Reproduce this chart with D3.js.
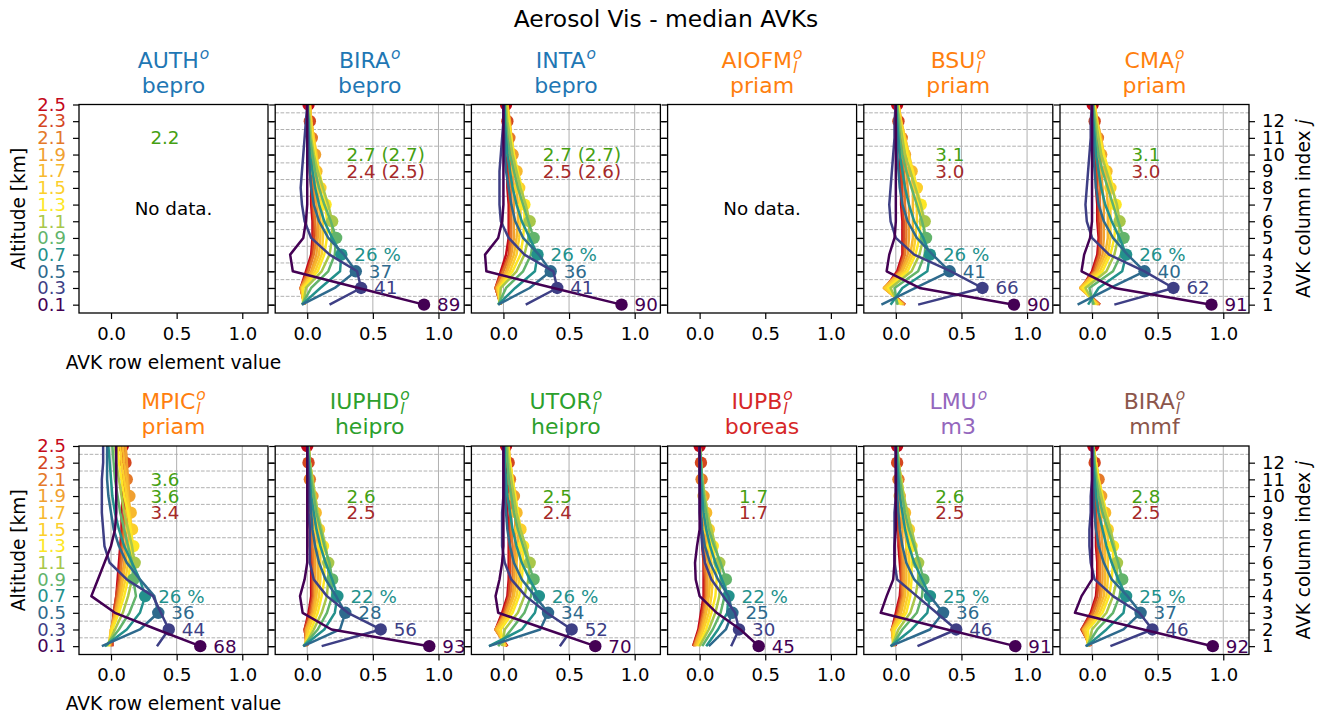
<!DOCTYPE html>
<html><head><meta charset="utf-8">
<script src="https://cdn.jsdelivr.net/npm/d3@7"></script>
<style>body{margin:0;background:#fff}text{font-family:"DejaVu Sans",sans-serif}</style>
</head><body><svg id="c" width="1328" height="715"></svg>
<script>
const altitudes = [0.1,0.3,0.5,0.7,0.9,1.1,1.3,1.5,1.7,1.9,2.1,2.3,2.5];
const boundaries = [0.2,0.4,0.6,0.8,1.0,1.2,1.4,1.6,1.8,2.0,2.2,2.4];
const altTickLabels = ["0.1","0.3","0.5","0.7","0.9","1.1","1.3","1.5","1.7","1.9","2.1","2.3","2.5"];
const colIndexLabels = ["1","2","3","4","5","6","7","8","9","10","11","12"];
const xTicks = [0.0,0.5,1.0];
const layerColors = ["#440154","#3e3f85","#2e6a8d","#23918c","#62b46b","#a9c74a","#fde725","#fccf2c","#f7b92e","#f0a030","#e4792a","#d4461f","#c4081b"];

const panelNames   = ["AUTH","BIRA","INTA","AIOFM","BSU","CMA","MPIC","IUPHD","UTOR","IUPB","LMU","BIRA"];
const panelSub     = ["","","","l","l","l","l","l","l","l","","l"];
const panelMethods = ["bepro","bepro","bepro","priam","priam","priam","priam","heipro","heipro","boreas","m3","mmf"];
const methodColors = {bepro:"#1f77b4",priam:"#ff7f0e",heipro:"#2ca02c",boreas:"#d62728",m3:"#9467bd",mmf:"#8c564b"};
const noData       = [true,false,false,true,false,false,false,false,false,false,false,false];
const diagLabels = [[],["89","41","37","26 %"],["90","41","36","26 %"],[],["90","66","41","26 %"],["91","62","40","26 %"],
  ["68","44","36","26 %"],["93","56","28","22 %"],["70","52","34","26 %"],["45","30","25","22 %"],["91","46","36","25 %"],["92","46","37","25 %"]];
const dofsLine1 = ["2.2","","","","","","3.6","","","","",""];
const dofsLine2 = ["","2.7 (2.7)","2.7 (2.7)","","3.1","3.1","3.6","2.6","2.5","1.7","2.6","2.8"];
const dofsLine3 = ["","2.4 (2.5)","2.5 (2.6)","","3.0","3.0","3.4","2.5","2.4","1.7","2.5","2.5"];

const avk_BIRA_bepro = [
 [0.89,0.39,-0.11,-0.13,-0.03,-0.01,0.00,0.00,0.00,0.00,0.00,0.00,0.00],
 [0.17,0.41,0.38,0.17,0.03,-0.02,-0.04,-0.05,-0.04,-0.03,-0.02,-0.01,0.00],
 [-0.04,0.21,0.37,0.28,0.16,0.09,0.05,0.03,0.02,0.01,0.01,0.00,0.00],
 [-0.04,0.10,0.25,0.26,0.19,0.13,0.09,0.06,0.04,0.02,0.01,0.01,0.00],
 [-0.04,0.03,0.16,0.21,0.22,0.18,0.13,0.09,0.06,0.04,0.02,0.01,0.00],
 [-0.03,-0.01,0.11,0.17,0.19,0.19,0.16,0.12,0.08,0.05,0.03,0.02,0.01],
 [-0.03,-0.03,0.08,0.13,0.15,0.15,0.14,0.12,0.09,0.06,0.04,0.02,0.01],
 [-0.03,-0.04,0.06,0.11,0.12,0.12,0.11,0.10,0.09,0.07,0.05,0.03,0.02],
 [-0.02,-0.04,0.04,0.09,0.10,0.10,0.09,0.08,0.07,0.07,0.05,0.03,0.02],
 [-0.02,-0.05,0.03,0.07,0.08,0.08,0.07,0.06,0.06,0.06,0.05,0.03,0.02],
 [-0.02,-0.05,0.01,0.05,0.07,0.06,0.05,0.05,0.04,0.04,0.035,0.03,0.02],
 [-0.02,-0.05,0.00,0.04,0.05,0.05,0.04,0.04,0.03,0.03,0.02,0.02,0.02],
 [-0.02,-0.05,-0.01,0.03,0.04,0.04,0.03,0.03,0.02,0.02,0.02,0.01,0.01]];
const avk_INTA_bepro = [
 [0.90,0.38,-0.13,-0.14,-0.04,-0.01,0.00,0.00,0.00,0.00,0.00,0.00,0.00],
 [0.17,0.41,0.38,0.16,0.04,-0.02,-0.03,-0.03,-0.03,-0.02,-0.01,0.00,0.00],
 [-0.04,0.20,0.36,0.27,0.15,0.09,0.06,0.04,0.02,0.01,0.01,0.00,0.00],
 [-0.04,0.09,0.24,0.26,0.20,0.14,0.10,0.07,0.05,0.03,0.02,0.01,0.01],
 [-0.04,0.02,0.15,0.21,0.23,0.19,0.15,0.11,0.08,0.05,0.03,0.02,0.01],
 [-0.03,-0.02,0.10,0.16,0.19,0.20,0.17,0.13,0.10,0.07,0.05,0.03,0.02],
 [-0.03,-0.03,0.07,0.13,0.15,0.16,0.16,0.14,0.11,0.08,0.06,0.04,0.02],
 [-0.03,-0.04,0.05,0.10,0.12,0.13,0.13,0.12,0.10,0.08,0.06,0.04,0.03],
 [-0.02,-0.05,0.03,0.08,0.10,0.11,0.11,0.10,0.10,0.08,0.06,0.05,0.03],
 [-0.02,-0.05,0.02,0.06,0.08,0.08,0.08,0.08,0.07,0.07,0.05,0.04,0.03],
 [-0.02,-0.06,0.00,0.05,0.06,0.06,0.06,0.06,0.05,0.05,0.045,0.04,0.03],
 [-0.02,-0.06,-0.01,0.04,0.05,0.05,0.05,0.04,0.04,0.04,0.03,0.03,0.02],
 [-0.02,-0.06,-0.02,0.02,0.04,0.04,0.04,0.03,0.03,0.03,0.02,0.02,0.02]];
const avk_BSU_priam = [
 [0.90,0.18,-0.07,-0.05,-0.01,0.00,0.00,0.00,0.00,0.00,0.00,0.00,0.00],
 [0.17,0.66,0.42,0.14,0.00,-0.04,-0.05,-0.04,-0.03,-0.02,-0.01,-0.01,0.00],
 [-0.11,0.15,0.41,0.28,0.16,0.09,0.05,0.03,0.02,0.01,0.01,0.00,0.00],
 [-0.04,0.05,0.24,0.26,0.21,0.14,0.10,0.07,0.05,0.03,0.02,0.01,0.00],
 [0.01,-0.01,0.17,0.22,0.23,0.20,0.16,0.12,0.08,0.05,0.03,0.02,0.01],
 [0.02,-0.04,0.12,0.18,0.21,0.22,0.19,0.15,0.11,0.07,0.05,0.03,0.01],
 [0.04,-0.06,0.09,0.15,0.18,0.19,0.19,0.16,0.13,0.09,0.06,0.03,0.02],
 [0.05,-0.08,0.07,0.13,0.15,0.16,0.16,0.16,0.13,0.10,0.07,0.04,0.02],
 [0.06,-0.09,0.05,0.11,0.13,0.13,0.13,0.13,0.12,0.10,0.07,0.04,0.02],
 [0.06,-0.09,0.04,0.09,0.10,0.10,0.10,0.09,0.08,0.07,0.06,0.04,0.02],
 [0.07,-0.09,0.03,0.07,0.08,0.08,0.07,0.07,0.06,0.05,0.045,0.03,0.02],
 [0.07,-0.08,0.02,0.06,0.06,0.06,0.05,0.05,0.04,0.04,0.03,0.02,0.01],
 [0.07,-0.08,0.01,0.05,0.05,0.05,0.04,0.04,0.03,0.03,0.02,0.01,0.01]];
const avk_CMA_priam = [
 [0.91,0.17,-0.08,-0.06,-0.015,0.00,0.00,0.00,0.00,0.00,0.00,0.00,0.00],
 [0.17,0.62,0.40,0.13,0.00,-0.04,-0.05,-0.04,-0.03,-0.02,-0.01,-0.01,0.00],
 [-0.11,0.14,0.40,0.27,0.16,0.09,0.05,0.03,0.02,0.01,0.01,0.00,0.00],
 [-0.03,0.05,0.23,0.26,0.21,0.15,0.10,0.07,0.05,0.03,0.02,0.01,0.00],
 [0.01,-0.02,0.16,0.22,0.24,0.20,0.16,0.12,0.08,0.05,0.03,0.02,0.01],
 [0.02,-0.05,0.11,0.17,0.20,0.21,0.19,0.15,0.11,0.07,0.05,0.03,0.01],
 [0.03,-0.07,0.08,0.14,0.17,0.18,0.18,0.16,0.13,0.09,0.06,0.03,0.02],
 [0.04,-0.08,0.06,0.12,0.14,0.14,0.14,0.14,0.12,0.09,0.06,0.04,0.02],
 [0.05,-0.09,0.04,0.10,0.12,0.12,0.12,0.11,0.11,0.09,0.07,0.04,0.02],
 [0.05,-0.09,0.03,0.08,0.09,0.09,0.09,0.08,0.07,0.07,0.05,0.03,0.02],
 [0.06,-0.09,0.02,0.06,0.07,0.07,0.06,0.06,0.05,0.05,0.045,0.03,0.01],
 [0.06,-0.08,0.01,0.05,0.06,0.05,0.05,0.04,0.04,0.03,0.03,0.02,0.01],
 [0.06,-0.08,0.00,0.04,0.05,0.04,0.04,0.03,0.03,0.02,0.02,0.01,0.005]];
const avk_MPIC_priam = [
 [0.68,0.35,0.03,-0.15,-0.10,-0.05,0.00,0.03,0.04,0.04,0.04,0.04,0.04],
 [0.35,0.44,0.38,0.32,0.12,-0.01,-0.05,-0.06,-0.07,-0.07,-0.07,-0.06,-0.06],
 [-0.07,0.22,0.36,0.33,0.22,0.12,0.06,0.02,0.00,-0.02,-0.03,-0.03,-0.03],
 [-0.05,0.12,0.22,0.26,0.22,0.16,0.10,0.06,0.03,0.01,0.00,-0.01,-0.02],
 [-0.04,0.06,0.14,0.19,0.17,0.16,0.13,0.10,0.07,0.05,0.03,0.02,0.01],
 [-0.03,0.03,0.09,0.13,0.16,0.18,0.16,0.13,0.10,0.08,0.06,0.04,0.03],
 [-0.02,0.01,0.06,0.10,0.13,0.15,0.17,0.15,0.13,0.10,0.08,0.06,0.05],
 [-0.02,0.00,0.05,0.08,0.11,0.13,0.15,0.16,0.14,0.12,0.10,0.08,0.07],
 [-0.01,0.00,0.04,0.07,0.09,0.11,0.13,0.14,0.15,0.13,0.12,0.10,0.09],
 [-0.01,0.00,0.03,0.06,0.08,0.10,0.11,0.12,0.13,0.14,0.13,0.12,0.11],
 [0.00,0.00,0.03,0.05,0.07,0.08,0.09,0.10,0.11,0.12,0.12,0.12,0.11],
 [0.01,0.01,0.02,0.04,0.06,0.07,0.08,0.09,0.10,0.10,0.11,0.11,0.11],
 [0.01,0.01,0.02,0.04,0.05,0.06,0.07,0.08,0.08,0.09,0.09,0.09,0.09]];
const avk_IUPHD_heipro = [
 [0.93,0.185,-0.035,-0.055,-0.02,0.00,0.00,0.00,0.00,0.00,0.00,0.00,0.00],
 [0.11,0.56,0.31,0.15,0.05,0.02,0.02,0.02,0.01,0.01,0.01,0.00,0.00],
 [-0.03,0.25,0.29,0.22,0.14,0.09,0.06,0.04,0.03,0.02,0.01,0.01,0.00],
 [-0.03,0.13,0.21,0.23,0.19,0.14,0.10,0.07,0.05,0.03,0.02,0.01,0.00],
 [-0.03,0.08,0.15,0.19,0.19,0.17,0.13,0.10,0.07,0.05,0.03,0.02,0.01],
 [-0.02,0.05,0.11,0.15,0.16,0.16,0.14,0.11,0.08,0.06,0.04,0.02,0.01],
 [-0.02,0.03,0.08,0.11,0.13,0.13,0.12,0.10,0.08,0.06,0.04,0.02,0.01],
 [-0.02,0.01,0.06,0.09,0.10,0.10,0.10,0.09,0.07,0.05,0.04,0.02,0.01],
 [-0.01,0.00,0.05,0.07,0.08,0.08,0.08,0.07,0.065,0.05,0.03,0.02,0.01],
 [-0.01,-0.01,0.04,0.06,0.06,0.06,0.06,0.05,0.05,0.04,0.03,0.02,0.01],
 [-0.01,-0.01,0.03,0.05,0.05,0.05,0.04,0.04,0.03,0.03,0.02,0.015,0.01],
 [0.00,-0.02,0.02,0.04,0.04,0.04,0.03,0.03,0.02,0.02,0.015,0.01,0.005],
 [0.00,-0.02,0.01,0.03,0.03,0.03,0.02,0.02,0.01,0.01,0.01,0.005,0.00]];
const avk_UTOR_heipro = [
 [0.70,0.33,-0.04,-0.06,-0.03,-0.01,0.00,0.00,0.00,0.00,0.00,0.00,0.00],
 [0.43,0.52,0.33,0.17,0.06,0.01,-0.01,-0.01,-0.01,0.00,0.00,0.00,0.00],
 [-0.11,0.28,0.34,0.24,0.14,0.08,0.05,0.03,0.02,0.01,0.01,0.00,0.00],
 [-0.11,0.14,0.24,0.27,0.20,0.14,0.10,0.07,0.05,0.03,0.02,0.01,0.01],
 [-0.04,0.06,0.16,0.21,0.23,0.19,0.15,0.11,0.08,0.06,0.04,0.03,0.02],
 [-0.01,0.01,0.11,0.16,0.19,0.20,0.17,0.13,0.10,0.08,0.06,0.04,0.03],
 [0.00,-0.02,0.07,0.12,0.14,0.15,0.15,0.13,0.11,0.09,0.07,0.05,0.03],
 [0.01,-0.04,0.05,0.10,0.12,0.13,0.13,0.13,0.11,0.09,0.07,0.05,0.04],
 [0.02,-0.05,0.03,0.08,0.10,0.10,0.11,0.11,0.10,0.09,0.07,0.05,0.04],
 [0.02,-0.06,0.02,0.07,0.08,0.09,0.09,0.09,0.09,0.08,0.07,0.05,0.03],
 [0.02,-0.06,0.01,0.05,0.07,0.07,0.07,0.06,0.06,0.06,0.05,0.04,0.03],
 [0.03,-0.06,0.00,0.04,0.05,0.05,0.05,0.05,0.05,0.04,0.04,0.04,0.03],
 [0.03,-0.06,-0.01,0.03,0.04,0.04,0.04,0.04,0.03,0.03,0.03,0.02,0.02]];
const avk_IUPB_boreas = [
 [0.45,0.31,0.13,0.00,-0.03,-0.035,-0.02,0.00,0.00,0.00,0.00,0.00,0.00],
 [0.24,0.30,0.27,0.18,0.09,0.04,0.02,0.01,0.00,0.00,0.00,0.00,0.00],
 [0.07,0.20,0.25,0.22,0.14,0.08,0.04,0.02,0.01,0.01,0.00,0.00,0.00],
 [0.05,0.14,0.21,0.22,0.17,0.12,0.08,0.05,0.03,0.02,0.01,0.01,0.00],
 [0.02,0.10,0.16,0.19,0.20,0.16,0.11,0.07,0.05,0.03,0.02,0.01,0.00],
 [0.00,0.07,0.12,0.15,0.16,0.15,0.12,0.09,0.06,0.04,0.02,0.01,0.00],
 [-0.01,0.05,0.09,0.12,0.13,0.12,0.10,0.08,0.06,0.04,0.02,0.01,0.00],
 [-0.02,0.03,0.07,0.09,0.10,0.09,0.08,0.07,0.05,0.03,0.02,0.01,0.00],
 [-0.03,0.02,0.05,0.07,0.08,0.07,0.06,0.05,0.05,0.03,0.02,0.01,0.00],
 [-0.04,0.01,0.04,0.06,0.06,0.06,0.05,0.04,0.03,0.03,0.02,0.01,0.00],
 [-0.04,0.00,0.03,0.05,0.05,0.04,0.04,0.03,0.02,0.02,0.015,0.01,0.00],
 [-0.05,0.00,0.02,0.04,0.04,0.03,0.03,0.02,0.02,0.01,0.01,0.01,0.00],
 [-0.05,-0.01,0.01,0.03,0.03,0.03,0.02,0.02,0.01,0.01,0.01,0.00,0.00]];
const avk_LMU_m3 = [
 [0.91,0.39,-0.115,-0.07,-0.02,-0.01,-0.01,0.00,0.00,0.00,0.00,0.00,0.00],
 [0.165,0.46,0.31,0.16,0.01,-0.01,-0.01,-0.01,-0.01,0.00,0.00,0.00,0.00],
 [-0.04,0.26,0.36,0.26,0.14,0.08,0.05,0.03,0.02,0.01,0.01,0.00,0.00],
 [-0.04,0.12,0.24,0.26,0.20,0.14,0.10,0.07,0.05,0.03,0.02,0.01,0.00],
 [-0.03,0.05,0.16,0.20,0.21,0.18,0.14,0.10,0.07,0.05,0.03,0.02,0.01],
 [-0.03,0.02,0.11,0.15,0.17,0.17,0.15,0.12,0.09,0.06,0.04,0.02,0.01],
 [-0.02,-0.01,0.08,0.11,0.12,0.12,0.12,0.10,0.08,0.06,0.04,0.02,0.01],
 [-0.02,-0.02,0.06,0.09,0.10,0.10,0.10,0.10,0.08,0.06,0.04,0.02,0.01],
 [-0.02,-0.03,0.04,0.07,0.08,0.08,0.08,0.07,0.07,0.05,0.04,0.02,0.01],
 [-0.01,-0.03,0.03,0.06,0.06,0.06,0.05,0.05,0.04,0.03,0.03,0.02,0.01],
 [-0.01,-0.03,0.02,0.05,0.05,0.05,0.04,0.03,0.03,0.02,0.02,0.015,0.01],
 [-0.01,-0.03,0.01,0.04,0.04,0.04,0.03,0.02,0.02,0.01,0.01,0.01,0.01],
 [0.00,-0.03,0.00,0.03,0.04,0.03,0.02,0.02,0.01,0.01,0.01,0.01,0.01]];
const avk_BIRA_mmf = [
 [0.92,0.39,-0.13,-0.08,0.00,0.00,0.00,0.00,0.00,0.00,0.00,0.00,0.00],
 [0.14,0.46,0.36,0.16,0.02,-0.01,-0.02,-0.02,-0.01,-0.01,0.00,0.00,0.00],
 [-0.05,0.24,0.37,0.27,0.15,0.09,0.05,0.03,0.02,0.01,0.01,0.00,0.00],
 [-0.04,0.11,0.24,0.26,0.20,0.15,0.11,0.08,0.05,0.03,0.02,0.01,0.00],
 [-0.04,0.04,0.16,0.21,0.23,0.20,0.16,0.12,0.08,0.05,0.03,0.02,0.01],
 [-0.03,0.00,0.11,0.16,0.19,0.19,0.17,0.14,0.10,0.07,0.04,0.02,0.01],
 [-0.03,-0.03,0.08,0.13,0.15,0.16,0.16,0.14,0.11,0.08,0.05,0.03,0.01],
 [-0.03,-0.05,0.06,0.11,0.12,0.12,0.12,0.12,0.10,0.08,0.05,0.03,0.01],
 [-0.02,-0.06,0.04,0.09,0.10,0.10,0.10,0.10,0.10,0.08,0.05,0.03,0.01],
 [-0.02,-0.07,0.03,0.07,0.08,0.08,0.08,0.07,0.07,0.07,0.05,0.03,0.01],
 [-0.02,-0.07,0.01,0.06,0.06,0.06,0.06,0.05,0.05,0.05,0.05,0.03,0.01],
 [-0.01,-0.08,0.00,0.04,0.05,0.05,0.04,0.04,0.03,0.03,0.03,0.02,0.01],
 [-0.01,-0.08,-0.01,0.03,0.04,0.04,0.03,0.03,0.02,0.02,0.02,0.01,0.01]];
const panelAvk = [null,avk_BIRA_bepro,avk_INTA_bepro,null,avk_BSU_priam,avk_CMA_priam,
  avk_MPIC_priam,avk_IUPHD_heipro,avk_UTOR_heipro,avk_IUPB_boreas,avk_LMU_m3,avk_BIRA_mmf];

const dofsGreen = "#45a012", dofsBrown = "#a52a2a";
const FS_TICK = 18, FS_ANN = 18.3, FS_LAB = 18.6, FS_TITLE = 22, FS_SCRIPT = 15.5;

const svg = d3.select("#c");
const W = 189, GAP = 7.2, LEFT0 = 79, H = 208.5;
const rowTops = [104.5, 446];

svg.append("text").attr("x",666).attr("y",19).attr("text-anchor","middle")
  .attr("dominant-baseline","central").attr("font-size",23.4).text("Aerosol Vis - median AVKs");

function measure(txt, size, italic) {
  const t = svg.append("text").attr("font-size",size).attr("font-style",italic?"italic":"normal").text(txt);
  const w = t.node().getComputedTextLength(); t.remove(); return w;
}

panelNames.forEach((name,p)=>{
  const row = Math.floor(p/6), col = p%6;
  const left = LEFT0 + col*(W+GAP), top = rowTops[row];
  const x = d3.scaleLinear().domain([-0.244,1.196]).range([left,left+W]);
  const y = d3.scaleLinear().domain([0,2.5]).range([top+H,top]);
  const g = svg.append("g");
  const cid = "clip"+p;
  svg.append("clipPath").attr("id",cid).append("rect").attr("x",left).attr("y",top).attr("width",W).attr("height",H);

  const mcol = methodColors[panelMethods[p]];
  const cx = left + W/2;
  const w1 = measure(name, FS_TITLE, false);
  const wo = measure("o", FS_SCRIPT, true);
  const wl = panelSub[p] ? measure(panelSub[p], FS_SCRIPT, true) : 0;
  const total = w1 + 1 + Math.max(wo, wl);
  const x0 = cx - total/2;
  const tt = g.append("text").attr("x",x0).attr("y",top-37).attr("font-size",FS_TITLE).attr("fill",mcol);
  tt.append("tspan").text(name);
  tt.append("tspan").attr("dx",1).attr("dy",-9).attr("font-size",FS_SCRIPT).attr("font-style","italic").text("o");
  if (panelSub[p]) tt.append("tspan").attr("dx",-wo).attr("dy",14).attr("font-size",FS_SCRIPT).attr("font-style","italic").text(panelSub[p]);
  g.append("text").attr("x",cx).attr("y",top-12).attr("text-anchor","middle").attr("font-size",FS_TITLE).attr("fill",mcol).text(panelMethods[p]);

  const avk = panelAvk[p];
  if (avk) {
    const grid = g.append("g");
    grid.selectAll("line.v").data(xTicks).join("line").attr("x1",d=>x(d)).attr("x2",d=>x(d))
      .attr("y1",top).attr("y2",top+H).attr("stroke","#b0b0b0").attr("stroke-width",1);
    grid.selectAll("line.h").data(boundaries).join("line").attr("x1",left).attr("x2",left+W)
      .attr("y1",d=>y(d)).attr("y2",d=>y(d)).attr("stroke","#b0b0b0").attr("stroke-width",1).attr("stroke-dasharray","3.7,1.6");
    const pg = g.append("g").attr("clip-path",`url(#${cid})`);
    const line = d3.line().x(d=>x(d)).y((d,i)=>y(altitudes[i]));
    for (let j=avk.length-1;j>=0;j--) {
      pg.append("path").attr("d",line(avk[j])).attr("fill","none").attr("stroke",layerColors[j])
        .attr("stroke-width",2.5).attr("stroke-linejoin","round");
      pg.append("circle").attr("cx",x(avk[j][j])).attr("cy",y(altitudes[j])).attr("r",6.2).attr("fill",layerColors[j]);
    }
    diagLabels[p].forEach((lab,j)=>{
      g.append("text").attr("x",x(avk[j][j])+13).attr("y",y(altitudes[j])).attr("dominant-baseline","central")
        .attr("font-size",FS_ANN).attr("fill",layerColors[j]).text(lab);
    });
  }
  if (noData[p]) {
    g.append("text").attr("x",cx).attr("y",y(1.25)).attr("text-anchor","middle").attr("dominant-baseline","central")
      .attr("font-size",FS_ANN).text("No data.");
  }
  [[dofsLine1,2.1,dofsGreen],[dofsLine2,1.9,dofsGreen],[dofsLine3,1.7,dofsBrown]].forEach(([arr,alt,c])=>{
    if (arr[p]) g.append("text").attr("x",x(0.3)).attr("y",y(alt)).attr("dominant-baseline","central")
      .attr("font-size",FS_ANN).attr("fill",c).text(arr[p]);
  });

  const xa = g.append("g").attr("transform",`translate(0,${top+H})`)
    .call(d3.axisBottom(x).tickValues(xTicks).tickFormat(d3.format(".1f")).tickSize(6).tickPadding(8).tickSizeOuter(0));
  xa.select(".domain").remove();
  xa.selectAll("text").attr("font-size",FS_TICK).attr("font-family","DejaVu Sans").attr("fill","#000");
  xa.selectAll("line").attr("stroke-width",1.2);
  const ya = g.append("g").attr("transform",`translate(${left},0)`)
    .call(d3.axisLeft(y).tickValues(altitudes).tickFormat((d,i)=> col===0 ? altTickLabels[i] : null).tickSize(6).tickPadding(7).tickSizeOuter(0));
  ya.select(".domain").remove();
  ya.selectAll("line").attr("stroke-width",1.2);
  if (col===0) ya.selectAll("text").attr("font-size",FS_TICK).attr("font-family","DejaVu Sans").attr("fill",(d,i)=>layerColors[i]);
  else ya.selectAll("text").remove();
  const ra = g.append("g").attr("transform",`translate(${left+W},0)`)
    .call(d3.axisRight(y).tickValues(altitudes.slice(0,12)).tickFormat((d,i)=> col===5 ? colIndexLabels[i] : null).tickSize(6).tickPadding(7).tickSizeOuter(0));
  ra.select(".domain").remove();
  ra.selectAll("line").attr("stroke-width",1.2);
  if (col===5) ra.selectAll("text").attr("font-size",FS_TICK).attr("font-family","DejaVu Sans").attr("fill","#000");
  else ra.selectAll("text").remove();

  g.append("rect").attr("x",left).attr("y",top).attr("width",W).attr("height",H)
    .attr("fill","none").attr("stroke","#000").attr("stroke-width",1.3);

  if (col===0) {
    g.append("text").attr("transform",`translate(18,${top+H/2}) rotate(-90)`).attr("text-anchor","middle")
      .attr("dominant-baseline","central").attr("font-size",FS_LAB).text("Altitude [km]");
    g.append("text").attr("x",cx).attr("y",top+H+49).attr("text-anchor","middle")
      .attr("dominant-baseline","central").attr("font-size",FS_LAB).text("AVK row element value");
  }
  if (col===5) {
    const rt = g.append("text").attr("transform",`translate(1303,${top+H/2}) rotate(-90)`).attr("text-anchor","middle")
      .attr("dominant-baseline","central").attr("font-size",FS_LAB);
    rt.append("tspan").text("AVK column index ");
    rt.append("tspan").attr("font-style","italic").text("j");
  }
});
</script></body></html>
